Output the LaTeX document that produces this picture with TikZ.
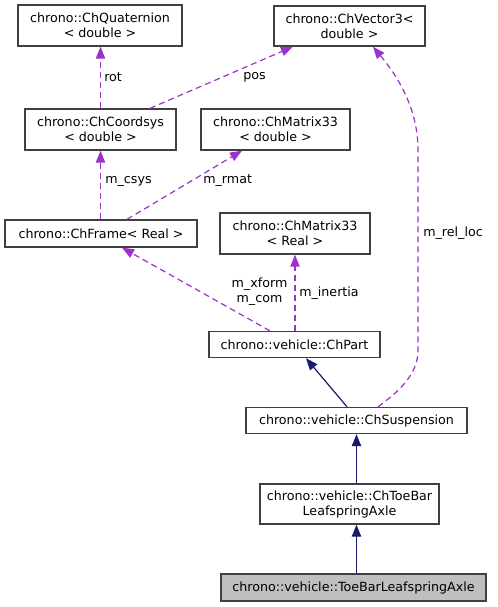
\documentclass[tikz,border=0pt]{standalone}
\usepackage{fontspec}
\setmainfont{DejaVu Sans}
\usetikzlibrary{arrows.meta}
\definecolor{edgep}{HTML}{9A32CD}
\definecolor{edgen}{HTML}{191970}
\definecolor{boxc}{HTML}{404040}
\definecolor{grayfill}{HTML}{BFBFBF}
\begin{document}
\begin{tikzpicture}[x=0.75pt,y=-0.75pt,
  cls/.style={draw=boxc, fill=white, line width=1pt, inner sep=0pt, align=center,
    font=\fontsize{9.5}{11.25}\selectfont},
  uses/.style={draw=edgep, line width=0.9pt, dash pattern=on 4.5pt off 3pt,
    -{Triangle[length=9pt,width=7pt]}},
  inh/.style={draw=edgen, line width=0.9pt, -{Triangle[length=9pt,width=7pt]}},
  lbl/.style={font=\fontsize{9.5}{11.25}\selectfont, inner sep=0pt, align=center}]
\useasboundingbox (0,0) rectangle (497,607);

\node[cls, minimum width=164*0.75pt, minimum height=41*0.75pt] (q) at (100,25.5) {chrono::ChQuaternion\\< double >};
\node[cls, minimum width=151*0.75pt, minimum height=40*0.75pt] (v) at (349.5,26) {chrono::ChVector3<\\double >};
\node[cls, minimum width=151*0.75pt, minimum height=41*0.75pt] (cs) at (100.5,129.5) {chrono::ChCoordsys\\< double >};
\node[cls, minimum width=149*0.75pt, minimum height=41*0.75pt] (md) at (275.5,129.5) {chrono::ChMatrix33\\< double >};
\node[cls, minimum width=192*0.75pt, minimum height=27*0.75pt] (fr) at (101,233.5) {chrono::ChFrame< Real >};
\node[cls, minimum width=150*0.75pt, minimum height=41*0.75pt] (mr) at (295,233.5) {chrono::ChMatrix33\\< Real >};
\node[cls, minimum width=171*0.75pt, minimum height=26*0.75pt] (part) at (294.5,344.5) {chrono::vehicle::ChPart};
\node[cls, minimum width=221*0.75pt, minimum height=26*0.75pt] (susp) at (356.5,420.5) {chrono::vehicle::ChSuspension};
\node[cls, minimum width=179*0.75pt, minimum height=40*0.75pt] (tb) at (349.5,504) {chrono::vehicle::ChToeBar\\LeafspringAxle};
\node[cls, fill=grayfill, minimum width=265*0.75pt, minimum height=27*0.75pt] (leaf) at (353.5,587.5) {chrono::vehicle::ToeBarLeafspringAxle};

% usage edges
\draw[uses] (cs.north) -- (cs.north |- q.south);
\draw[uses] ([xshift=37.1pt]cs.north) -- ([xshift=-42.4pt]v.south);
\draw[uses] (fr.north -| cs.south) -- (cs.south);
\draw[uses] ([xshift=19.5pt]fr.north) -- ([xshift=-25.1pt]md.south);
\draw[uses] ([xshift=-18.4pt]part.north) -- ([xshift=15.75pt]fr.south);
\draw[uses] (part.north -| mr.south) -- (mr.south);
\coordinate (rl1) at (418,350);
\coordinate (rl2) at (418,150);
\draw[uses] ([xshift=16.1pt]susp.north) .. controls (398,392) and (418,375) .. (rl1) -- (rl2)
  .. controls (418,105) and (394,72) .. ([xshift=17.6pt]v.south);

% inheritance edges
\draw[inh] ([xshift=-7.1pt]susp.north) -- ([xshift=8.6pt]part.south);
\draw[inh] (tb.north -| susp.south) -- (susp.south);
\draw[inh] (leaf.north -| susp.south) -- (tb.south -| susp.south);

% labels
\node[lbl, anchor=west] (lrot) at (104,77) {rot};
\node[lbl, anchor=west] (lpos) at (243,77) {pos};
\node[lbl, anchor=west] (lcsys) at (105,181) {m\_csys};
\node[lbl, anchor=west] (lrmat) at (203,181) {m\_rmat};
\node[lbl] (lxform) at (259.5,292) {m\_xform\\m\_com};
\node[lbl, anchor=west] (linertia) at (299,293) {m\_inertia};
\node[lbl, anchor=west] (lrelloc) at (423,233) {m\_rel\_loc};
\end{tikzpicture}
\end{document}
